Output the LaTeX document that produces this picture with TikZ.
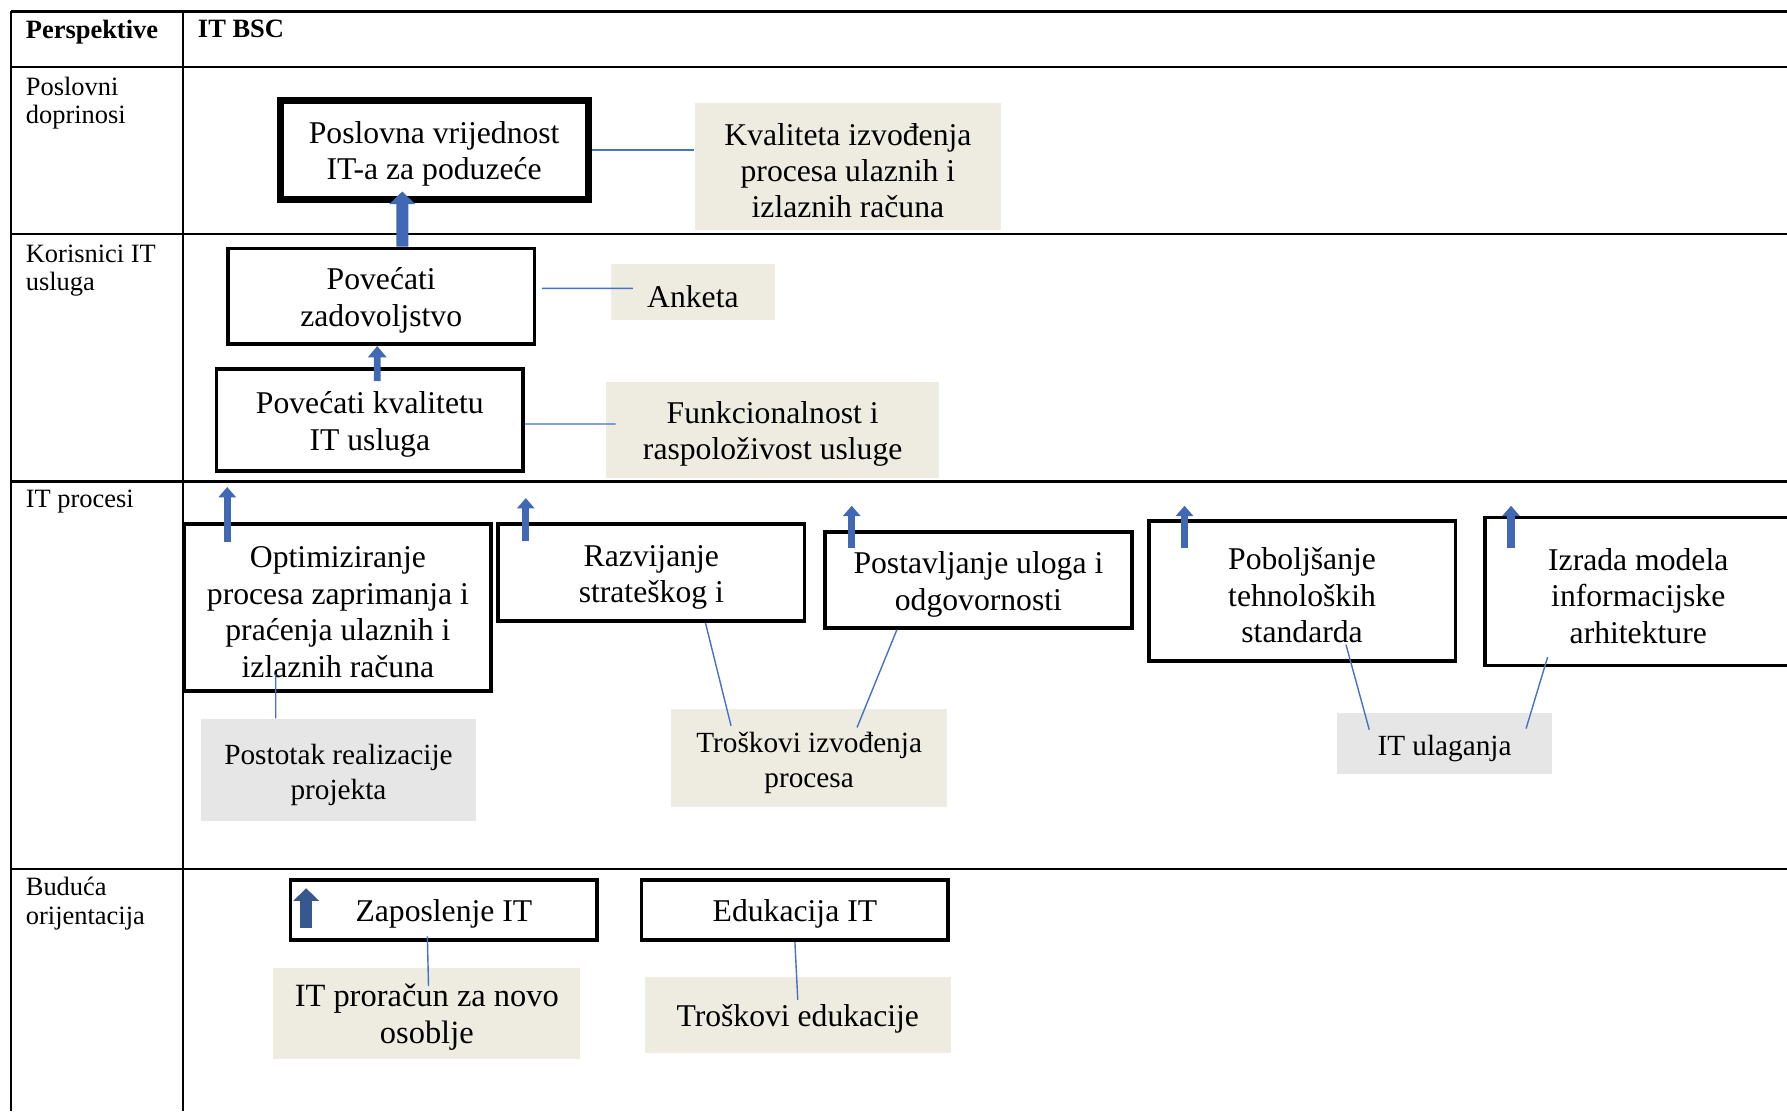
\documentclass[tikz,border=0pt]{standalone}
\usepackage{fontspec}
\setmainfont{Liberation Serif}
\usetikzlibrary{arrows.meta}

\definecolor{measurebeige}{RGB}{238,236,225}
\definecolor{measuregray}{RGB}{231,230,230}
\definecolor{linkblue}{RGB}{68,114,196}
\definecolor{arrowblue}{RGB}{64,104,180}
\definecolor{arrowdark}{RGB}{54,88,142}

% pushes the first line of a box down a little
\newcommand{\boxstrut}{\rule{0pt}{7.6pt}}

\begin{document}
\begin{tikzpicture}[x=0.01cm, y=-0.01cm,
        % styles
        grid/.style = {
                draw=black, line width=0.55pt
            },
        rowlabel/.style = {
                anchor=north west, inner sep=0pt, align=left,
                font=\fontsize{6.6}{7.1}\selectfont
            },
        headlabel/.style = {
                rowlabel, font=\fontsize{6.6}{7.1}\selectfont\bfseries
            },
        goal/.style = {
                rectangle, draw=black, line width=0.9pt, fill=white,
                inner sep=0pt, align=center,
                font=\fontsize{7.9}{9.1}\selectfont
            },
        measure/.style = {
                rectangle, fill=measurebeige, inner sep=0pt, align=center,
                font=\fontsize{7.9}{9.1}\selectfont
            },
        measuresmall/.style = {
                measure, font=\fontsize{7.3}{8.6}\selectfont
            },
        link/.style = {
                draw=linkblue, line width=0.35pt
            },
        uparrow/.style = {
                draw=arrowblue, line width=0.065cm,
                -{Triangle[length=0.09cm, width=0.15cm]}
            },
        bigarrow/.style = {
                draw=arrowblue, line width=0.105cm,
                -{Triangle[length=0.11cm, width=0.22cm]}
            }]

    \clip (0,0) rectangle (1568,975);

    % % table
    \foreach \y in {10,58.5,205.5,422.5,762.5}
        \draw [grid] (10,\y) -- (1568,\y);
    \draw [grid] (10,10) -- (10,975);
    \draw [grid] (160.5,10) -- (160.5,975);

    \node (perspektive) [headlabel] at (22,17) {Perspektive};
    \node (it_bsc) [headlabel] at (173,17) {IT BSC};
    \node (poslovni) [rowlabel] at (22,67) {Poslovni\\doprinosi};
    \node (korisnici) [rowlabel] at (22,214) {Korisnici IT\\usluga};
    \node (procesi) [rowlabel] at (22,429) {IT procesi};
    \node (buduca) [rowlabel] at (22,769) {Buduća\\orijentacija};

    % % goals
    \node (poslovna_vrijednost) [goal, line width=1.7pt, minimum width=2.70cm, minimum height=0.87cm] at (381,131.5) {\boxstrut Poslovna vrijednost\\IT-a za poduzeće};
    \node (zadovoljstvo) [goal, minimum width=2.69cm, minimum height=0.84cm] at (334.5,260) {\boxstrut Povećati\\zadovoljstvo};
    \node (kvaliteta_usluga) [goal, minimum width=2.69cm, minimum height=0.89cm] at (324.5,368.5) {\boxstrut Povećati kvalitetu\\IT usluga};
    \node (optimiziranje) [goal, minimum width=2.69cm, minimum height=1.46cm] at (296.5,533) {\boxstrut Optimiziranje\\procesa zaprimanja i\\praćenja ulaznih i\\izlaznih računa};
    \node (razvijanje) [goal, minimum width=2.69cm, minimum height=0.85cm] at (571.5,502.5) {\boxstrut Razvijanje\\strateškog i};
    \node (postavljanje) [goal, minimum width=2.69cm, minimum height=0.84cm] at (858.5,509) {\boxstrut Postavljanje uloga i\\odgovornosti};
    \node (poboljsanje) [goal, minimum width=2.69cm, minimum height=1.23cm] at (1142.5,518.5) {\boxstrut Poboljšanje\\tehnoloških\\standarda};
    \node (izrada) [goal, minimum width=2.69cm, minimum height=1.30cm] at (1437.5,519) {\boxstrut Izrada modela\\informacijske\\arhitekture};
    \node (zaposlenje) [goal, minimum width=2.69cm, minimum height=0.53cm] at (389.5,798.5) {\boxstrut Zaposlenje IT};
    \node (edukacija) [goal, minimum width=2.69cm, minimum height=0.53cm] at (697.5,798.5) {\boxstrut Edukacija IT};

    % % measures
    \node (kvaliteta_izvodenja) [measure, minimum width=2.68cm, minimum height=1.12cm] at (744,146) {\boxstrut Kvaliteta izvođenja\\procesa ulaznih i\\izlaznih računa};
    \node (anketa) [measure, minimum width=1.44cm, minimum height=0.49cm] at (608,256.5) {\boxstrut Anketa};
    \node (funkcionalnost) [measure, minimum width=2.92cm, minimum height=0.84cm] at (678,377) {\boxstrut Funkcionalnost i\\raspoloživost usluge};
    \node (postotak) [measuresmall, fill=measuregray, minimum width=2.42cm, minimum height=0.89cm] at (297,675.5) {\boxstrut Postotak realizacije\\projekta};
    \node (troskovi_izvodenja) [measuresmall, minimum width=2.42cm, minimum height=0.86cm] at (710,665) {\boxstrut Troškovi izvođenja\\procesa};
    \node (it_ulaganja) [measuresmall, fill=measuregray, minimum width=1.89cm, minimum height=0.53cm] at (1267.5,652.5) {\boxstrut IT ulaganja};
    \node (proracun) [measure, font=\fontsize{8.1}{9.1}\selectfont, minimum width=2.69cm, minimum height=0.80cm] at (374.5,889) {\boxstrut IT proračun za novo\\osoblje};
    \node (troskovi_edukacije) [measure, minimum width=2.68cm, minimum height=0.67cm] at (700,890.5) {\boxstrut Troškovi edukacije};

    % % links
    \draw [link] (poslovna_vrijednost.east) -- (poslovna_vrijednost.east -| kvaliteta_izvodenja.west);
    \draw [link] ([xshift=0.05cm, yshift=0.07cm]zadovoljstvo.east) -- ([xshift=0.2cm, yshift=0.035cm]anketa.west);
    \draw [link] ([yshift=-0.035cm]kvaliteta_usluga.east) -- ([xshift=0.09cm, yshift=0.05cm]funkcionalnost.west);
    \draw [link] ([xshift=-0.545cm, yshift=0.16cm]optimiziranje.south) -- ([xshift=-0.55cm]postotak.north);
    \draw [link] ([xshift=0.475cm]razvijanje.south) -- ([xshift=-0.685cm, yshift=-0.156cm]troskovi_izvodenja.north);
    \draw [link] ([xshift=-0.715cm]postavljanje.south) -- ([xshift=0.42cm, yshift=-0.17cm]troskovi_izvodenja.north);
    \draw [link] ([xshift=0.385cm, yshift=0.16cm]poboljsanje.south) -- ([xshift=-0.66cm, yshift=-0.15cm]it_ulaganja.north);
    \draw [link] ([xshift=-0.795cm, yshift=0.09cm]izrada.south) -- ([xshift=0.715cm, yshift=-0.14cm]it_ulaganja.north);
    \draw [link] ([xshift=-0.145cm, yshift=0.05cm]zaposlenje.south) -- ([xshift=0.015cm, yshift=-0.17cm]proracun.north);
    \draw [link] (edukacija.south) -- ([yshift=-0.21cm]troskovi_edukacije.north);

    % % arrows
    \draw [bigarrow] ([xshift=0.185cm]zadovoljstvo.north) -- ([xshift=-0.28cm, yshift=0.1cm]poslovna_vrijednost.south);
    \draw [uparrow, line width=0.06cm, -{Triangle[length=0.1cm, width=0.16cm]}] ([xshift=0.065cm, yshift=-0.12cm]kvaliteta_usluga.north) -- ([xshift=-0.035cm]zadovoljstvo.south);
    \draw [uparrow] ([xshift=0.39cm, yshift=-0.17cm]optimiziranje.north west) -- ([xshift=0.39cm, yshift=0.31cm]optimiziranje.north west);
    \draw [uparrow] ([xshift=0.26cm, yshift=-0.16cm]razvijanje.north west) -- ([xshift=0.26cm, yshift=0.213cm]razvijanje.north west);
    \draw [uparrow] ([xshift=0.25cm, yshift=-0.156cm]postavljanje.north west) -- ([xshift=0.25cm, yshift=0.216cm]postavljanje.north west);
    \draw [uparrow] ([xshift=0.33cm, yshift=-0.256cm]poboljsanje.north west) -- ([xshift=0.33cm, yshift=0.116cm]poboljsanje.north west);
    \draw [uparrow] ([xshift=0.245cm, yshift=-0.286cm]izrada.north west) -- ([xshift=0.245cm, yshift=0.086cm]izrada.north west);
    \draw [bigarrow, draw=arrowdark] ([xshift=0.153cm, yshift=-0.44cm]zaposlenje.north west) -- ([xshift=0.153cm, yshift=-0.09cm]zaposlenje.north west);
\end{tikzpicture}
\end{document}
